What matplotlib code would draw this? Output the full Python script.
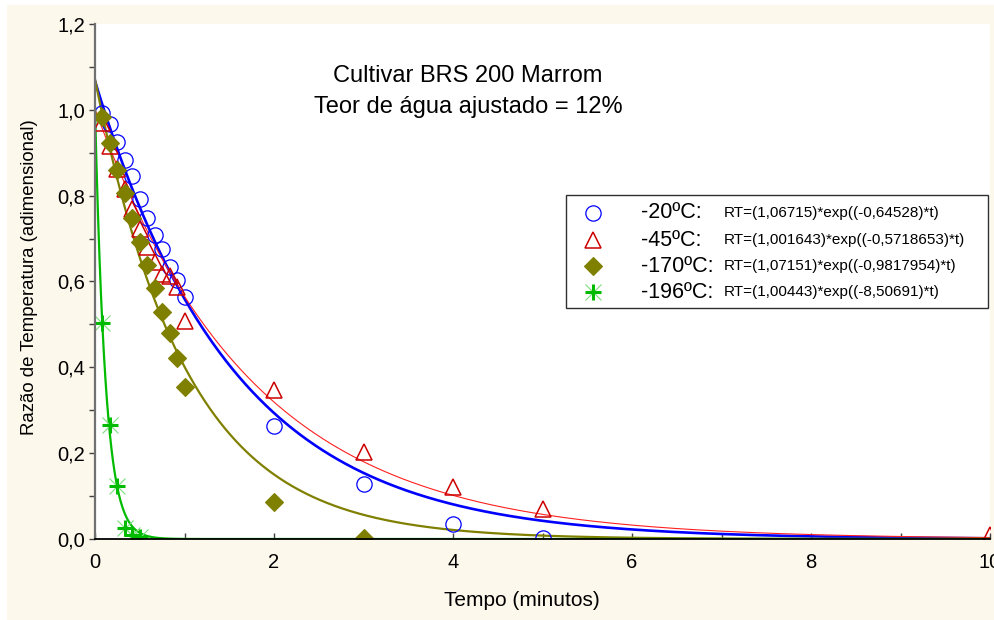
import numpy as np
import matplotlib
matplotlib.use("Agg")
import matplotlib.pyplot as plt
from matplotlib.lines import Line2D
from matplotlib.patches import Rectangle
from matplotlib.ticker import FixedLocator, FuncFormatter

plt.rcParams['font.family'] = ['Liberation Sans', 'DejaVu Sans']

# Measured temperature ratio (RT) versus time (minutes)
t_fine = [1/12, 2/12, 3/12, 4/12, 5/12, 6/12, 7/12, 8/12, 9/12, 10/12, 11/12, 1.0]

t_20 = t_fine + [2, 3, 4, 5]
rt_20 = [0.992, 0.968, 0.925, 0.883, 0.846, 0.793, 0.749, 0.709, 0.676, 0.634, 0.604, 0.565,
         0.263, 0.128, 0.035, 0.003]

t_45 = t_fine + [2, 3, 4, 5, 10]
rt_45 = [0.970, 0.915, 0.862, 0.815, 0.770, 0.722, 0.681, 0.646, 0.618, 0.612, 0.588, 0.507,
         0.347, 0.203, 0.121, 0.070, 0.009]

t_170 = t_fine + [2, 3]
rt_170 = [0.984, 0.922, 0.860, 0.806, 0.748, 0.693, 0.639, 0.584, 0.528, 0.479, 0.421, 0.355,
          0.086, 0.003]

t_196 = [1/12, 2/12, 3/12, 4/12, 5/12, 6/12]
rt_196 = [0.504, 0.266, 0.124, 0.026, 0.010, 0.004]

# Fitted model RT = a*exp(b*t)
labels = ["-20ºC:", "-45ºC:", "-170ºC:", "-196ºC:"]
coef_a = [1.06715, 1.001643, 1.07151, 1.00443]
coef_b = [-0.64528, -0.5718653, -0.9817954, -8.50691]
equations = ["RT=(1,06715)*exp((-0,64528)*t)",
             "RT=(1,001643)*exp((-0,5718653)*t)",
             "RT=(1,07151)*exp((-0,9817954)*t)",
             "RT=(1,00443)*exp((-8,50691)*t)"]

title_lines = ["Cultivar BRS 200 Marrom", "Teor de água ajustado = 12%"]

BLUE = "#0000FF"
RED_M = "#CC0000"
RED_L = "#FF2020"
OLIVE = "#808000"
GREEN = "#00BB00"
GREEN_L = "#7FDD7F"
BG = "#FDF8EC"

fig = plt.figure(figsize=(9.95, 6.2), dpi=100, facecolor="white")
fig.patches.append(Rectangle((7/995, 0.0), 1 - 7/995, 1 - 5/620, transform=fig.transFigure,
                             facecolor=BG, edgecolor="none", zorder=-10))
ax = fig.add_axes([95/995, 1 - 539/620, 895/995, (539 - 24)/620])
ax.set_facecolor("white")

tt = np.linspace(0, 10, 1200)
line_styles = [dict(color=BLUE, lw=1.9), dict(color=RED_L, lw=0.8),
               dict(color=OLIVE, lw=1.6), dict(color=GREEN, lw=1.6)]
for a, b, st in zip(coef_a, coef_b, line_styles):
    ax.plot(tt, a * np.exp(b * tt), zorder=3, **st)

ms = 11
mk_circle = dict(marker="o", ms=ms, mfc="none", mec=BLUE, mew=0.9)
mk_tri = dict(marker="^", ms=ms + 1, mfc="none", mec=RED_M, mew=1.1)
mk_dia = dict(marker="D", ms=ms - 1.5, mfc=OLIVE, mec=OLIVE, mew=0.8)
mk_star_x = dict(marker="x", ms=ms, mec=GREEN_L, mew=0.8)
mk_star_p = dict(marker="+", ms=ms + 1, mec=GREEN, mew=2.2)

ax.plot(t_20, rt_20, ls="none", zorder=4, **mk_circle)
ax.plot(t_45, rt_45, ls="none", zorder=4, **mk_tri)
ax.plot(t_170, rt_170, ls="none", zorder=4, **mk_dia)
ax.plot(t_196, rt_196, ls="none", zorder=4, **mk_star_x)
ax.plot(t_196, rt_196, ls="none", zorder=5, **mk_star_p)

ax.set_xlim(0, 10)
ax.set_ylim(0, 1.2)

ax.spines['top'].set_visible(False)
ax.spines['right'].set_visible(False)
ax.spines['left'].set_color("#707070")
ax.spines['left'].set_linewidth(1.6)
ax.spines['bottom'].set_color("black")
ax.spines['bottom'].set_linewidth(1.3)
ax.spines['left'].set_zorder(6)
ax.spines['bottom'].set_zorder(6)

comma = FuncFormatter(lambda v, p: f"{v:.1f}".replace(".", ","))
ax.yaxis.set_major_locator(FixedLocator(np.arange(0, 1.21, 0.2)))
ax.yaxis.set_minor_locator(FixedLocator(np.arange(0.1, 1.2, 0.2)))
ax.yaxis.set_major_formatter(comma)
ax.tick_params(axis='y', which='both', direction='out', length=4, width=1, color="#404040",
               labelsize=14.5, pad=3)
ax.xaxis.set_major_locator(FixedLocator(np.arange(0, 10.1, 2)))
ax.xaxis.set_minor_locator(FixedLocator(np.arange(1, 10, 2)))
ax.xaxis.set_major_formatter(FuncFormatter(lambda v, p: f"{v:.0f}"))
ax.tick_params(axis='x', which='both', direction='in', length=4, width=1, color="#404040",
               labelsize=14.5, pad=10)

ax.set_xlabel("Tempo (minutos)", fontsize=15)
ax.xaxis.set_label_coords((522 - 95) / 895, (539 - 601) / 515)
ax.xaxis.label.set_va("center")
ax.set_ylabel("Razão de Temperatura (adimensional)", fontsize=13.4)
ax.yaxis.set_label_coords((30 - 95) / 895, (539 - 277) / 515)
ax.yaxis.label.set_va("center")

ax.text((468 - 95) / 895, (539 - 76) / 515, title_lines[0], transform=ax.transAxes,
        ha="center", va="center", fontsize=17)
ax.text((468 - 95) / 895, (539 - 107) / 515, title_lines[1], transform=ax.transAxes,
        ha="center", va="center", fontsize=17)

# Legend box with markers, temperature labels and fitted equations
def ax_x(px):
    return (px - 95) / 895

def ax_y(py):
    return (539 - py) / 515

ax.add_patch(Rectangle((ax_x(566), ax_y(308)), ax_x(988) - ax_x(566), ax_y(195) - ax_y(308),
                       transform=ax.transAxes, facecolor="white", edgecolor="#303030",
                       lw=1.0, zorder=7, clip_on=False))
rows_py = [213, 240, 266, 292]
legend_markers = [[mk_circle], [mk_tri], [mk_dia], [mk_star_x, mk_star_p]]
for py, mks, lab, eq in zip(rows_py, legend_markers, labels, equations):
    yy = ax_y(py)
    for mk in mks:
        ax.add_line(Line2D([ax_x(593)], [yy], ls="none", transform=ax.transAxes, zorder=8,
                           clip_on=False, **mk))
    ax.text(ax_x(641), yy, lab, transform=ax.transAxes, ha="left", va="center",
            fontsize=15.5, zorder=8)
    ax.text(ax_x(724), yy, eq, transform=ax.transAxes, ha="left", va="center",
            fontsize=11, zorder=8)

fig.savefig("out.png", dpi=100, facecolor=fig.get_facecolor())
